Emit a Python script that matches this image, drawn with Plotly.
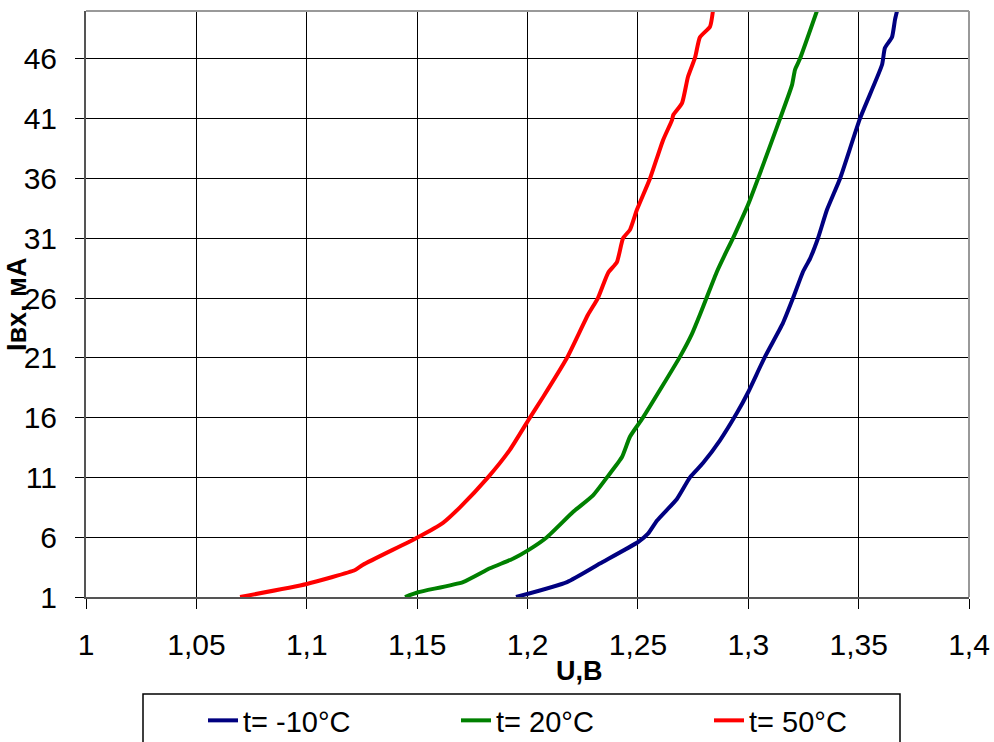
import plotly.graph_objects as go

# ---- data ----
u_m10 = [1.1948, 1.2179, 1.2328, 1.2501, 1.2546, 1.2587, 1.2677, 1.2736, 1.2795, 1.2872,
         1.2949, 1.2999, 1.3076, 1.3157, 1.3203, 1.3248, 1.3280, 1.3316, 1.3357, 1.3416,
         1.3506, 1.3606, 1.3619, 1.3651, 1.3665, 1.3674]
i_m10 = [1.0, 2.25, 3.8, 5.6, 6.3, 7.4, 9.2, 11.0, 12.2, 14.1,
         16.4, 18.1, 21.1, 23.9, 26.0, 28.2, 29.3, 31.0, 33.4, 36.0,
         41.0, 45.5, 46.9, 47.8, 49.3, 50.0]

u_20 = [1.1445, 1.1504, 1.1708, 1.1830, 1.1934, 1.2002, 1.2088, 1.2206, 1.2297, 1.2360,
        1.2428, 1.2464, 1.2523, 1.2691, 1.2745, 1.2781, 1.2813, 1.2858, 1.2904, 1.2931,
        1.2963, 1.2999, 1.3144, 1.3198, 1.3212, 1.3234, 1.3311]
i_20 = [1.0, 1.4, 2.25, 3.4, 4.2, 4.9, 6.0, 8.1, 9.5, 11.0,
        12.7, 14.4, 16.0, 21.1, 23.0, 24.6, 26.1, 28.2, 30.0, 31.0,
        32.3, 33.8, 41.0, 43.8, 45.1, 46.0, 50.0]

u_50 = [1.0698, 1.1000, 1.1219, 1.1255, 1.1504, 1.1617, 1.1694, 1.1821, 1.1920, 1.2011,
        1.2070, 1.2179, 1.2274, 1.2319, 1.2365, 1.2405, 1.2433, 1.2464, 1.2496, 1.2555,
        1.2614, 1.2655, 1.2660, 1.2700, 1.2727, 1.2759, 1.2781, 1.2827, 1.2840]
i_50 = [1.0, 2.09, 3.26, 3.7, 6.0, 7.2, 8.5, 11.0, 13.3, 16.0,
        17.7, 21.0, 24.6, 26.0, 28.1, 29.0, 31.0, 31.7, 33.4, 36.0,
        39.2, 40.9, 41.3, 42.3, 44.5, 46.1, 47.8, 48.7, 50.0]

series_names = ["t= -10°C", "t= 20°C", "t= 50°C"]
series_colors = ["#000080", "#008000", "#FF0000"]

x_tick_vals = [1.0, 1.05, 1.1, 1.15, 1.2, 1.25, 1.3, 1.35, 1.4]
x_tick_text = ["1", "1,05", "1,1", "1,15", "1,2", "1,25", "1,3", "1,35", "1,4"]
y_tick_vals = [1, 6, 11, 16, 21, 26, 31, 36, 41, 46]
y_tick_text = [str(v) for v in y_tick_vals]

x_title = "U,B"
y_title = "Iвх, мА"

FONT = "Liberation Sans, Arial, sans-serif"

W, H = 994, 742
L, R, T, B = 86, 25, 11, 145
pw, ph = W - L - R, H - T - B

def px_x(p):
    return (p - L) / pw

def px_y(p):
    return (H - B - p) / ph

fig = go.Figure()
for u, i, n, c in zip([u_m10, u_20, u_50], [i_m10, i_20, i_50], series_names, series_colors):
    fig.add_trace(go.Scatter(x=u, y=i, mode="lines", name=n,
                             line=dict(color=c, width=4, shape="spline", smoothing=0.5)))

fig.update_layout(
    width=W, height=H,
    margin=dict(l=L, r=R, t=T, b=B, pad=0, autoexpand=False),
    paper_bgcolor="white", plot_bgcolor="white",
    font=dict(family=FONT, size=30, color="black"),
    showlegend=True,
    legend=dict(orientation="h", x=px_x(203), xanchor="left",
                y=px_y(695), yanchor="top",
                font=dict(family=FONT, size=29, color="black"),
                entrywidth=208, entrywidthmode="pixels",
                bgcolor="rgba(0,0,0,0)", borderwidth=0),
    xaxis=dict(range=[1.0, 1.4], tickvals=x_tick_vals, ticktext=x_tick_text,
               showgrid=True, gridcolor="black", gridwidth=1,
               showline=True, linecolor="#555555", linewidth=2, mirror=False,
               ticks="outside", ticklen=10, tickwidth=1, tickcolor="black",
               ticklabelstandoff=10, zeroline=False,
               tickfont=dict(family=FONT, size=30)),
    yaxis=dict(range=[1, 50], tickvals=y_tick_vals, ticktext=y_tick_text,
               showgrid=True, gridcolor="black", gridwidth=1,
               showline=True, linecolor="#555555", linewidth=2, mirror=False,
               ticks="outside", ticklen=9, tickwidth=1, tickcolor="black",
               ticklabelstandoff=12, zeroline=False,
               tickfont=dict(family=FONT, size=30)),
    shapes=[
        # top and right frame of plot area
        dict(type="line", xref="paper", yref="paper", x0=0, x1=1, y0=1, y1=1,
             line=dict(color="#999999", width=2)),
        dict(type="line", xref="paper", yref="paper", x0=1, x1=1, y0=0, y1=1,
             line=dict(color="#999999", width=2)),
        # legend frame
        dict(type="rect", xref="paper", yref="paper",
             x0=px_x(143), x1=px_x(900), y0=px_y(694), y1=px_y(760),
             line=dict(color="black", width=1.5), fillcolor="rgba(0,0,0,0)"),
    ],
    annotations=[
        dict(text="<b>%s</b>" % x_title, xref="paper", yref="paper",
             x=px_x(579), y=px_y(671), xanchor="center", yanchor="middle",
             showarrow=False, font=dict(family=FONT, size=27, color="black")),
        dict(text="<b>%s</b>" % y_title, xref="paper", yref="paper",
             x=px_x(17), y=px_y(304), xanchor="center", yanchor="middle",
             textangle=-90, showarrow=False,
             font=dict(family=FONT, size=27, color="black")),
    ],
)

fig.write_html("out.html")
